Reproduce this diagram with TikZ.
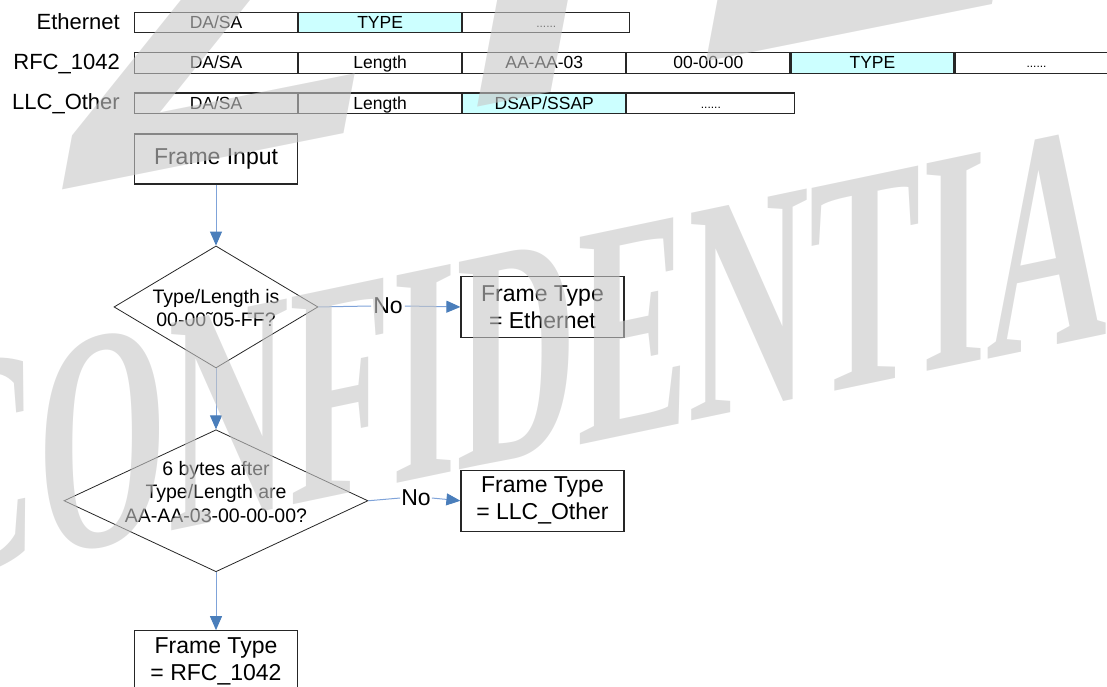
\documentclass[tikz,border=0pt]{standalone}
\usepackage{fontspec}
\setmainfont{Liberation Sans}
\newfontfamily\wmserif{Liberation Serif}
\usetikzlibrary{shapes.geometric, arrows.meta, positioning}
\definecolor{fieldcyan}{HTML}{CCFFFF}
\definecolor{flowblue}{HTML}{4A7EBB}
\definecolor{flowline}{HTML}{7FA3D9}
\definecolor{markgray}{HTML}{C7C7C7}

\begin{document}
\begin{tikzpicture}[
    x=1pt, y=-1pt,
    field/.style={draw=black!85, line width=1.1pt, minimum width=163pt, minimum height=20.5pt, inner sep=0pt, anchor=west, font=\fontsize{17.5}{20}\selectfont, text height=14pt, text depth=2pt},
    typefield/.style={field, fill=fieldcyan},
    dots/.style={field, font=\fontsize{12}{14}\selectfont, text height=10pt, text depth=0pt},
    rowlbl/.style={anchor=base east, inner sep=0pt, font=\fontsize{22}{26}\selectfont},
    proc/.style={draw=black!85, line width=1.1pt, minimum width=163pt, align=center, font=\fontsize{23}{27}\selectfont},
    decision/.style={draw=black!85, diamond, line width=0.8pt, inner sep=0pt},
    cond/.style={align=center, inner sep=0pt, font=\fontsize{19.5}{23.5}\selectfont},
    nolbl/.style={inner sep=2pt, font=\fontsize{23}{27}\selectfont},
    flow/.style={draw=flowline, line width=1pt},
    arrow/.style={flow, -{Triangle[length=14pt, width=12pt, color=flowblue]}},
    wmark/.style={text=markgray, text opacity=0.6, inner sep=0pt, anchor=base west}
]
    \useasboundingbox (0,0) rectangle (1107,687);
    \clip (0,0) rectangle (1107,687);

    % frame formats
    \node[rowlbl] (ethlbl) at (120,30) {Ethernet};
    \node[field] (eth1) at (134,22.5) {DA/SA};
    \node[typefield, right=0pt of eth1] (eth2) {TYPE};
    \node[dots, right=0pt of eth2, minimum width=167pt] (eth3) {......};

    \node[rowlbl] (rfclbl) at (120,69.5) {RFC\_1042};
    \node[field] (rfc1) at (134,63) {DA/SA};
    \node[field, right=0pt of rfc1] (rfc2) {Length};
    \node[field, right=0pt of rfc2] (rfc3) {AA-AA-03};
    \node[field, right=0pt of rfc3] (rfc4) {00-00-00};
    \node[typefield, right=0pt of rfc4] (rfc5) {TYPE};
    \node[dots, right=0pt of rfc5] (rfc6) {......};

    \node[rowlbl] (llclbl) at (120,110) {LLC\_Other};
    \node[field] (llc1) at (134,103.3) {DA/SA};
    \node[field, right=0pt of llc1] (llc2) {Length};
    \node[typefield, right=0pt of llc2] (llc3) {DSAP/SSAP};
    \node[dots, right=0pt of llc3, minimum width=168pt] (llc4) {......};

    % flow
    \node[proc, minimum height=50pt] (input) at (216,159) {Frame Input};
    \node[decision, minimum width=204pt, minimum height=122pt, below=61pt of input] (cond1) {};
    \node[cond] (cond1txt) at ([yshift=-1pt]cond1.center) {Type/Length is\\00-00˜05-FF?};
    \node[decision, minimum width=304pt, minimum height=142pt, below=61pt of cond1] (cond2) {};
    \node[cond] (cond2txt) at ([yshift=9pt]cond2.center) {6 bytes after\\Type/Length are\\AA-AA-03-00-00-00?};

    \node[proc, minimum height=61pt, right=142pt of cond1] (ethtype) {Frame Type\\= Ethernet};
    \node[proc, minimum height=61pt, right=92pt of cond2] (llctype) {Frame Type\\= LLC\_Other};
    \node[proc, minimum height=61pt, below=58pt of cond2] (rfctype) {Frame Type\\= RFC\_1042};

    \node[nolbl] (no1) at (388,306) {No};
    \node[nolbl, inner sep=1pt] (no2) at (416,498) {No};

    \draw[arrow] (input) -- (cond1);
    \draw[arrow] (cond1) -- (cond2);
    \draw[arrow] (cond2) -- (rfctype);
    \draw[flow] (cond1.east) -- (no1.west);
    \draw[arrow] (no1.east) -- (ethtype.west);
    \draw[flow] (cond2.east) -- (no2.west);
    \draw[arrow] (no2.east) -- (llctype.west);

    % watermark on top
    \node[wmark, font=\bfseries\itshape\fontsize{510}{510}\selectfont, cm={1,0.2,0,1,(0,0)}] (ztemark) at (74,188) {ZTE};
    \node[wmark, font=\wmserif\bfseries\fontsize{317}{317}\selectfont, cm={0.528,0.111,0,1,(0,0)}] (confmark) at (-83,584) {CONFIDENTIAL};
\end{tikzpicture}
\end{document}
